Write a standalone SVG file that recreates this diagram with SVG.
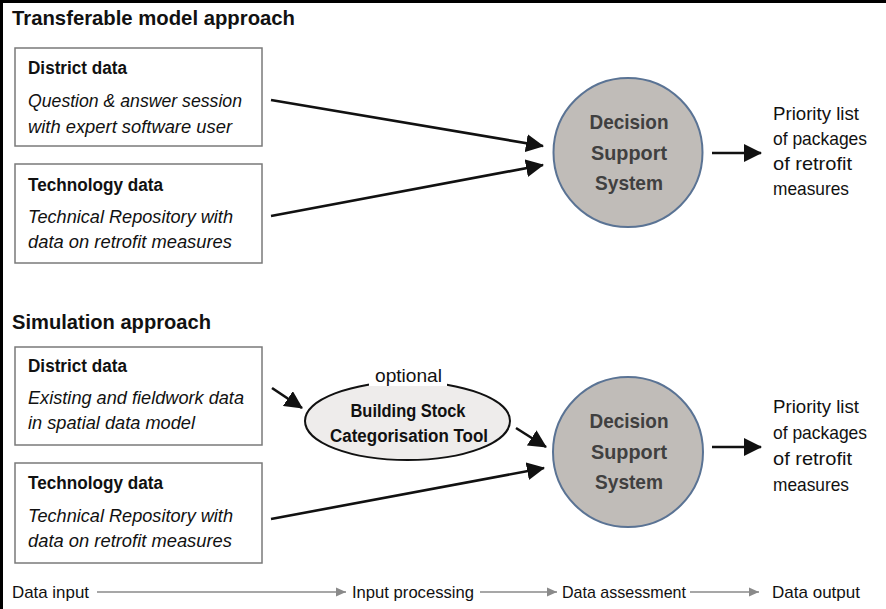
<svg xmlns="http://www.w3.org/2000/svg" width="886" height="609" viewBox="0 0 886 609">
<style>
text{font-family:"Liberation Sans",Arial,sans-serif;fill:#111}
.h{font-size:21px;font-weight:bold}
.b{font-size:18px;font-weight:bold}
.i{font-size:18px;font-style:italic}
.r{font-size:18.5px}
.d{font-size:20.5px;font-weight:bold;fill:#404040;text-anchor:middle}
.ax{font-size:17px}
.box{fill:#fff;stroke:#7a7a7a;stroke-width:1.5}
.dss{fill:#c0bcb8;stroke:#5a7394;stroke-width:2}
.con{stroke:#111;stroke-width:2.6;fill:none}
.gax{stroke:#8a8a8a;stroke-width:1.5;fill:none}
</style>
<defs>
<marker id="ah" markerUnits="userSpaceOnUse" markerWidth="18" markerHeight="18" refX="17" refY="9" orient="auto" viewBox="0 0 18 18">
<path d="M0,0 L18,9 L0,18 Z" fill="#111"/>
</marker>
<marker id="ga" markerUnits="userSpaceOnUse" markerWidth="10" markerHeight="10" refX="10" refY="5" orient="auto" viewBox="0 0 10 10">
<path d="M0,0.5 L10,5 L0,9.5 Z" fill="#8a8a8a"/>
</marker>
</defs>
<rect x="0" y="0" width="886" height="609" fill="#fff"/>
<line x1="1.5" y1="0" x2="1.5" y2="609" stroke="#000" stroke-width="3"/>
<line x1="0" y1="1.5" x2="886" y2="1.5" stroke="#000" stroke-width="3"/>

<text class="h" x="12" y="25" textLength="283" lengthAdjust="spacingAndGlyphs">Transferable model approach</text>
<text class="h" x="12" y="329" textLength="199" lengthAdjust="spacingAndGlyphs">Simulation approach</text>

<g id="district1">
<rect class="box" x="15" y="48" width="247" height="98"/>
<text class="b" x="28" y="74" textLength="99" lengthAdjust="spacingAndGlyphs">District data</text>
<text class="i" x="28" y="107" textLength="214" lengthAdjust="spacingAndGlyphs">Question &amp; answer session</text>
<text class="i" x="28" y="133" textLength="204" lengthAdjust="spacingAndGlyphs">with expert software user</text>
</g>
<g id="tech1">
<rect class="box" x="15" y="164" width="247" height="99"/>
<text class="b" x="28" y="191" textLength="135" lengthAdjust="spacingAndGlyphs">Technology data</text>
<text class="i" x="28" y="223" textLength="205" lengthAdjust="spacingAndGlyphs">Technical Repository with</text>
<text class="i" x="28" y="248" textLength="204" lengthAdjust="spacingAndGlyphs">data on retrofit measures</text>
</g>
<g id="dss1">
<circle class="dss" cx="628" cy="152.5" r="74.5"/>
<text class="d" x="629" y="129" textLength="79" lengthAdjust="spacingAndGlyphs">Decision</text>
<text class="d" x="629" y="160" textLength="76" lengthAdjust="spacingAndGlyphs">Support</text>
<text class="d" x="629" y="190" textLength="68" lengthAdjust="spacingAndGlyphs">System</text>
</g>
<g id="out1">
<text class="r" x="773" y="120" textLength="86" lengthAdjust="spacingAndGlyphs">Priority list</text>
<text class="r" x="773" y="145" textLength="94" lengthAdjust="spacingAndGlyphs">of packages</text>
<text class="r" x="773" y="170" textLength="79" lengthAdjust="spacingAndGlyphs">of retrofit</text>
<text class="r" x="773" y="195" textLength="76" lengthAdjust="spacingAndGlyphs">measures</text>
</g>

<g id="district2">
<rect class="box" x="15" y="347" width="247" height="98"/>
<text class="b" x="28" y="372" textLength="99" lengthAdjust="spacingAndGlyphs">District data</text>
<text class="i" x="28" y="404" textLength="216" lengthAdjust="spacingAndGlyphs">Existing and fieldwork data</text>
<text class="i" x="28" y="429" textLength="167" lengthAdjust="spacingAndGlyphs">in spatial data model</text>
</g>
<g id="tech2">
<rect class="box" x="15" y="463" width="247" height="100"/>
<text class="b" x="28" y="489" textLength="135" lengthAdjust="spacingAndGlyphs">Technology data</text>
<text class="i" x="28" y="522" textLength="205" lengthAdjust="spacingAndGlyphs">Technical Repository with</text>
<text class="i" x="28" y="547" textLength="204" lengthAdjust="spacingAndGlyphs">data on retrofit measures</text>
</g>
<g id="bsct">
<ellipse cx="407.5" cy="421" rx="102.5" ry="39" fill="#eeeceb" stroke="#111" stroke-width="2"/>
<rect x="369" y="365" width="78" height="21" fill="#fff"/>
<text class="r" x="408.5" y="382" text-anchor="middle" textLength="67" lengthAdjust="spacingAndGlyphs">optional</text>
<text class="b" x="408" y="417" text-anchor="middle" textLength="115" lengthAdjust="spacingAndGlyphs">Building Stock</text>
<text class="b" x="409" y="442" text-anchor="middle" textLength="158" lengthAdjust="spacingAndGlyphs">Categorisation Tool</text>
</g>
<g id="dss2">
<circle class="dss" cx="628" cy="452" r="75"/>
<text class="d" x="629" y="428" textLength="79" lengthAdjust="spacingAndGlyphs">Decision</text>
<text class="d" x="629" y="459" textLength="76" lengthAdjust="spacingAndGlyphs">Support</text>
<text class="d" x="629" y="489" textLength="68" lengthAdjust="spacingAndGlyphs">System</text>
</g>
<g id="out2">
<text class="r" x="773" y="413" textLength="86" lengthAdjust="spacingAndGlyphs">Priority list</text>
<text class="r" x="773" y="439" textLength="94" lengthAdjust="spacingAndGlyphs">of packages</text>
<text class="r" x="773" y="465" textLength="79" lengthAdjust="spacingAndGlyphs">of retrofit</text>
<text class="r" x="773" y="491" textLength="76" lengthAdjust="spacingAndGlyphs">measures</text>
</g>

<g id="connectors">
<line class="con" x1="271" y1="100" x2="543" y2="146" marker-end="url(#ah)"/>
<line class="con" x1="271" y1="216" x2="543" y2="165" marker-end="url(#ah)"/>
<line class="con" x1="712" y1="153" x2="761" y2="153" marker-end="url(#ah)"/>
<line class="con" x1="272" y1="388" x2="302" y2="408" marker-end="url(#ah)"/>
<line class="con" x1="516" y1="428" x2="546" y2="447" marker-end="url(#ah)"/>
<line class="con" x1="271" y1="519" x2="544" y2="468" marker-end="url(#ah)"/>
<line class="con" x1="712" y1="447" x2="761" y2="447" marker-end="url(#ah)"/>
</g>

<g id="axis">
<text class="ax" x="12" y="598" textLength="77" lengthAdjust="spacingAndGlyphs">Data input</text>
<line class="gax" x1="97" y1="592" x2="346" y2="592" marker-end="url(#ga)"/>
<text class="ax" x="352" y="598" textLength="122" lengthAdjust="spacingAndGlyphs">Input processing</text>
<line class="gax" x1="480" y1="592" x2="557" y2="592" marker-end="url(#ga)"/>
<text class="ax" x="562" y="598" textLength="124" lengthAdjust="spacingAndGlyphs">Data assessment</text>
<line class="gax" x1="690" y1="592" x2="759" y2="592" marker-end="url(#ga)"/>
<text class="ax" x="772" y="598" textLength="88" lengthAdjust="spacingAndGlyphs">Data output</text>
</g>
</svg>
